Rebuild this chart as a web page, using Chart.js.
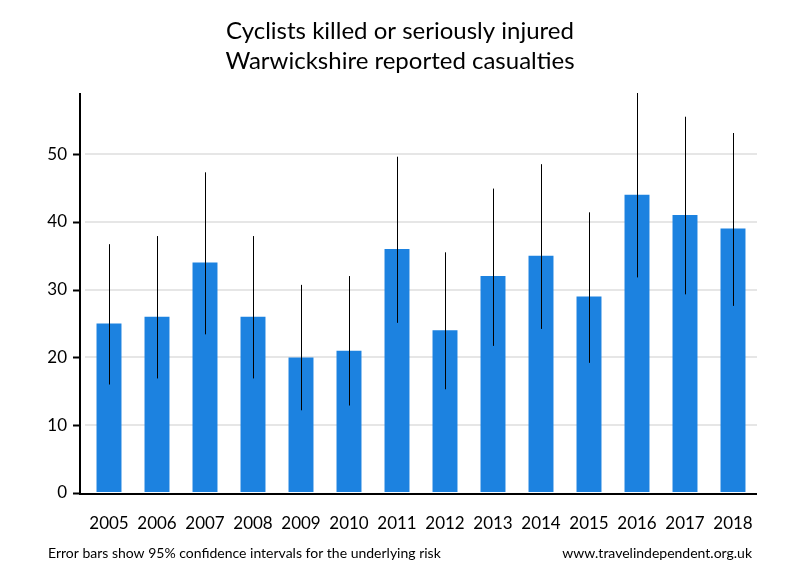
<!DOCTYPE html>
<html>
<head>
<meta charset="utf-8">
<script src="https://cdn.jsdelivr.net/npm/chart.js@4"></script>
<style>
  body { margin: 0; background: #fff; }
  #wrap { width: 800px; height: 580px; }
</style>
</head>
<body>
<div id="wrap"><canvas id="chart" width="800" height="580"></canvas></div>
<script>
const years = ['2005', '2006', '2007', '2008', '2009', '2010', '2011', '2012', '2013', '2014', '2015', '2016', '2017', '2018'];
const casualties = [25, 26, 34, 26, 20, 21, 36, 24, 32, 35, 29, 44, 41, 39];
const ciLower = [16.0, 16.9, 23.4, 16.9, 12.2, 12.9, 25.1, 15.3, 21.7, 24.2, 19.2, 31.8, 29.3, 27.6];
const ciUpper = [36.7, 37.9, 47.3, 37.9, 30.7, 32.0, 49.6, 35.5, 44.9, 48.5, 41.4, 59.0, 55.5, 53.1];
const yTicks = [0, 10, 20, 30, 40, 50];
const titleLines = ['Cyclists killed or seriously injured', 'Warwickshire reported casualties'];
const footLeft = 'Error bars show 95% confidence intervals for the underlying risk';
const footRight = 'www.travelindependent.org.uk';

const FONT = 'Lato, "Open Sans", sans-serif';
const AXIS_SHIFT = 5;

// title, error bars, axis lines, footer
const extras = {
  id: 'extras',
  afterDatasetsDraw(chart) {
    const { ctx, chartArea, scales } = chart;
    const x = scales.x, y = scales.y;
    ctx.save();
    ctx.strokeStyle = '#000';
    ctx.lineWidth = 1;
    years.forEach((yr, i) => {
      const px = Math.round(x.getPixelForValue(i)) + 0.5;
      ctx.beginPath();
      ctx.moveTo(px, y.getPixelForValue(ciLower[i]));
      ctx.lineTo(px, y.getPixelForValue(ciUpper[i]));
      ctx.stroke();
    });

    // axes
    const ax = chartArea.left - AXIS_SHIFT;
    ctx.lineWidth = 2;
    ctx.beginPath();
    ctx.moveTo(ax, chartArea.top);
    ctx.lineTo(ax, chartArea.bottom + 1);
    ctx.lineTo(chartArea.right, chartArea.bottom + 1);
    ctx.stroke();
    yTicks.forEach((t) => {
      const py = Math.round(y.getPixelForValue(t)) + 0.5;
      ctx.beginPath();
      ctx.moveTo(ax - 7, py);
      ctx.lineTo(ax, py);
      ctx.stroke();
    });

    ctx.fillStyle = '#000';
    ctx.textBaseline = 'middle';
    ctx.textAlign = 'center';
    ctx.font = '24px ' + FONT;
    titleLines.forEach((t, i) => ctx.fillText(t, 400, 31 + i * 30.5));

    ctx.font = '14px ' + FONT;
    ctx.textAlign = 'left';
    ctx.fillText(footLeft, 48, 553);
    ctx.textAlign = 'right';
    ctx.fillText(footRight, 752, 553);
    ctx.restore();
  },
};

new Chart(document.getElementById('chart'), {
  type: 'bar',
  data: {
    labels: years,
    datasets: [
      {
        data: casualties,
        backgroundColor: '#1c82e0',
        borderWidth: 0,
        categoryPercentage: 1,
        barPercentage: 0.52,
      },
    ],
  },
  options: {
    responsive: false,
    animation: false,
    layout: { padding: { left: 0, right: 43, bottom: 0, top: 93 } },
    plugins: {
      legend: { display: false },
      tooltip: { enabled: false },
      title: { display: false },
    },
    scales: {
      x: {
        grid: { display: false, drawTicks: false },
        border: { display: false },
        ticks: { color: '#000', font: { family: FONT, size: 17 }, padding: 20 },
        afterFit: (s) => { s.height = 87; },
      },
      y: {
        min: 0,
        max: 59,
        afterBuildTicks: (s) => { s.ticks = yTicks.map((v) => ({ value: v })); },
        grid: {
          color: (c) => (c.tick && c.tick.value === 0 ? 'rgba(0,0,0,0)' : '#e6e6e6'),
          lineWidth: 2,
          drawTicks: false,
        },
        border: { display: false },
        ticks: { color: '#000', font: { family: FONT, size: 17 }, padding: 18 },
        afterFit: (s) => { s.width = 85; },
      },
    },
  },
  plugins: [extras],
});
</script>
</body>
</html>
